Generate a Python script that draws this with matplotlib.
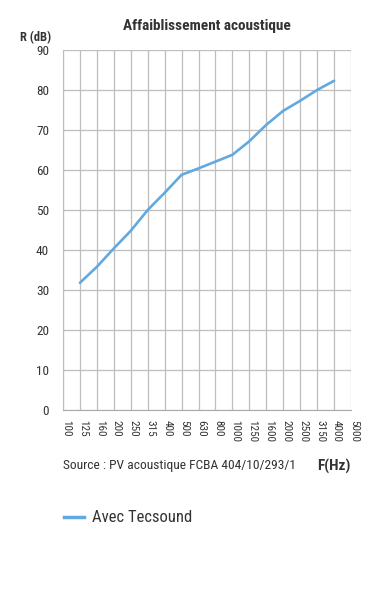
import matplotlib
matplotlib.use('Agg')
import matplotlib.pyplot as plt
import matplotlib.transforms as mtransforms

plt.rcParams['font.family'] = ['Roboto Condensed', 'Roboto', 'DejaVu Sans']

freqs = ['100', '125', '160', '200', '250', '315', '400', '500', '630', '800',
         '1000', '1250', '1600', '2000', '2500', '3150', '4000', '5000']
data_freqs = ['125', '160', '200', '250', '315', '400', '500', '630', '800',
              '1000', '1250', '1600', '2000', '2500', '3150', '4000']
r_db = [31.8, 35.8, 40.4, 44.8, 50.0, 54.3, 58.8, 60.4, 62.1, 63.8,
        67.2, 71.3, 74.8, 77.3, 80.0, 82.3]
yticks = [0, 10, 20, 30, 40, 50, 60, 70, 80, 90]

text_col = '#333333'
grid_col = '#bdbdbd'
line_col = '#62a9e0'

fig = plt.figure(figsize=(3.78, 6.0), dpi=100)
ax = fig.add_axes([63 / 378, 1 - 410 / 600, 288 / 378, 360 / 600])

x = [freqs.index(f) for f in data_freqs]
ax.plot(x, r_db, color=line_col, linewidth=1.9, solid_capstyle='round')

ax.set_xlim(0, len(freqs) - 1)
ax.set_ylim(0, 90)
ax.set_xticks(range(len(freqs)))
ax.set_xticklabels(freqs, rotation=270, fontsize=8, color=text_col, va='top', ha='center')
ax.set_yticks(yticks)
ax.set_yticklabels([str(v) for v in yticks], fontsize=9.5, color=text_col)
ax.tick_params(length=0)
ax.tick_params(axis='y', pad=10)
ax.tick_params(axis='x', pad=7)
# shift x labels slightly right of the lines
offset = mtransforms.ScaledTranslation(3 / 100, 0, fig.dpi_scale_trans)
for lab in ax.get_xticklabels():
    lab.set_transform(lab.get_transform() + offset)

ax.grid(True, color=grid_col, linewidth=0.9)
ax.set_axisbelow(True)
for s in ['top', 'right']:
    ax.spines[s].set_visible(False)
ax.spines['left'].set_color(grid_col)
ax.spines['bottom'].set_color('#aaaaaa')

fig.text(207 / 378, 1 - 26 / 600, 'Affaiblissement acoustique', ha='center', va='center',
         fontsize=11, color=text_col, fontweight='bold')
fig.text(36 / 378, 1 - 38 / 600, 'R (dB)', ha='center', va='center',
         fontsize=9, color=text_col, fontweight='bold')
fig.text(63 / 378, 1 - 466 / 600, 'Source : PV acoustique FCBA 404/10/293/1', ha='left', va='center',
         fontsize=9.7, color=text_col)
fig.text(350 / 378, 1 - 466 / 600, 'F(Hz)', ha='right', va='center',
         fontsize=11, color=text_col, fontweight='bold')

# legend
ax.plot([], [], color=line_col, linewidth=2.5, label='Avec Tecsound')
fig.legend(loc='center left', bbox_to_anchor=(64 / 378, 1 - 518 / 600), frameon=False,
           fontsize=12, handlelength=1.2, handletextpad=0.5, borderpad=0,
           borderaxespad=0, labelcolor=text_col)

fig.savefig('out.png', dpi=100)
